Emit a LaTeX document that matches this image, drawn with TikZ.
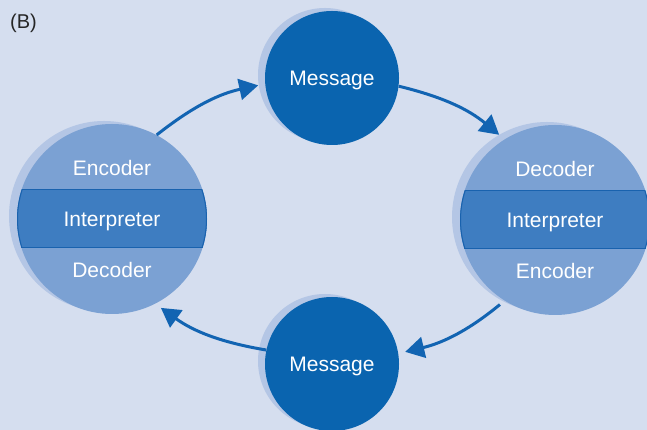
\documentclass[tikz,border=0pt]{standalone}
\usepackage{fontspec}
\setmainfont{Liberation Sans}
\usetikzlibrary{arrows.meta,shadows,positioning}
\definecolor{bgblue}{RGB}{213,222,239}
\definecolor{shadeblue}{RGB}{180,198,229}
\definecolor{ringblue}{RGB}{123,161,211}
\definecolor{bandblue}{RGB}{62,125,193}
\definecolor{bandline}{RGB}{25,98,174}
\definecolor{msgblue}{RGB}{10,100,175}
\definecolor{flowblue}{RGB}{18,100,178}
\tikzset{
	ring/.style={circle,fill=ringblue,minimum size=190pt,inner sep=0pt,
		drop shadow={shadow xshift=-8pt,shadow yshift=3pt,fill=shadeblue,opacity=1}},
	msg/.style={circle,fill=msgblue,minimum size=134pt,inner sep=0pt,
		text=white,font=\fontsize{21}{25}\selectfont,text height=15pt,text depth=0pt,
		drop shadow={shadow xshift=-7pt,shadow yshift=3pt,fill=shadeblue,opacity=1}},
	lbl/.style={text=white,font=\fontsize{21}{25}\selectfont,text height=15pt,text depth=0pt,inner sep=0pt},
	flow/.style={draw=flowblue,line width=3pt,-{Triangle[length=19pt,width=21pt]},
		bend left=13,shorten >=7pt}
}
\begin{document}
\begin{tikzpicture}[x=1pt,y=1pt]
		\useasboundingbox (0,0) rectangle (647,430);
		\fill[bgblue] (0,0) rectangle (647,430);
		\node[font=\fontsize{20}{24}\selectfont,text=black!85] (tag) at (23.5,407) {(B)};
		% the two talkers
		\node[ring] (lring) at (112,211) {};
		\node[ring] (rring) at (555,210) {};
		\foreach \c in {lring,rring}
		{
			\begin{scope}
			\clip (\c) circle (95pt);
			\fill[bandblue] ([xshift=-5pt,yshift=-29pt]\c.west) rectangle ([xshift=5pt,yshift=29pt]\c.east);
			\draw[bandline,line width=1pt] ([xshift=-5pt,yshift=-29pt]\c.west) -- ([xshift=5pt,yshift=-29pt]\c.east)
				([xshift=-5pt,yshift=29pt]\c.west) -- ([xshift=5pt,yshift=29pt]\c.east);
			\end{scope}
			\begin{scope}
			\clip ([xshift=-5pt,yshift=-29pt]\c.west) rectangle ([xshift=5pt,yshift=29pt]\c.east);
			\draw[bandline,line width=1pt] (\c) circle (94.5pt);
			\end{scope}
			\node[lbl] (\c-mid) at (\c) {Interpreter};
		}
		\node[lbl] (lenc) at ([yshift=51pt]lring.center) {Encoder};
		\node[lbl] (ldec) at ([yshift=-51pt]lring.center) {Decoder};
		\node[lbl] (rdec) at ([yshift=51pt]rring.center) {Decoder};
		\node[lbl] (renc) at ([yshift=-51pt]rring.center) {Encoder};
		% messages
		\node[msg] (mtop) at (332,352) {Message};
		\node[msg] (mbot) at (332,66) {Message};
		\draw[flow] (lring.62) to (mtop.185);
		\draw[flow] (mtop.-7) to (rring.122);
		\draw[flow,shorten <=6pt] (rring.238) to (mbot.9);
		\draw[flow] (mbot.168) to (lring.-63);
\end{tikzpicture}
\end{document}
